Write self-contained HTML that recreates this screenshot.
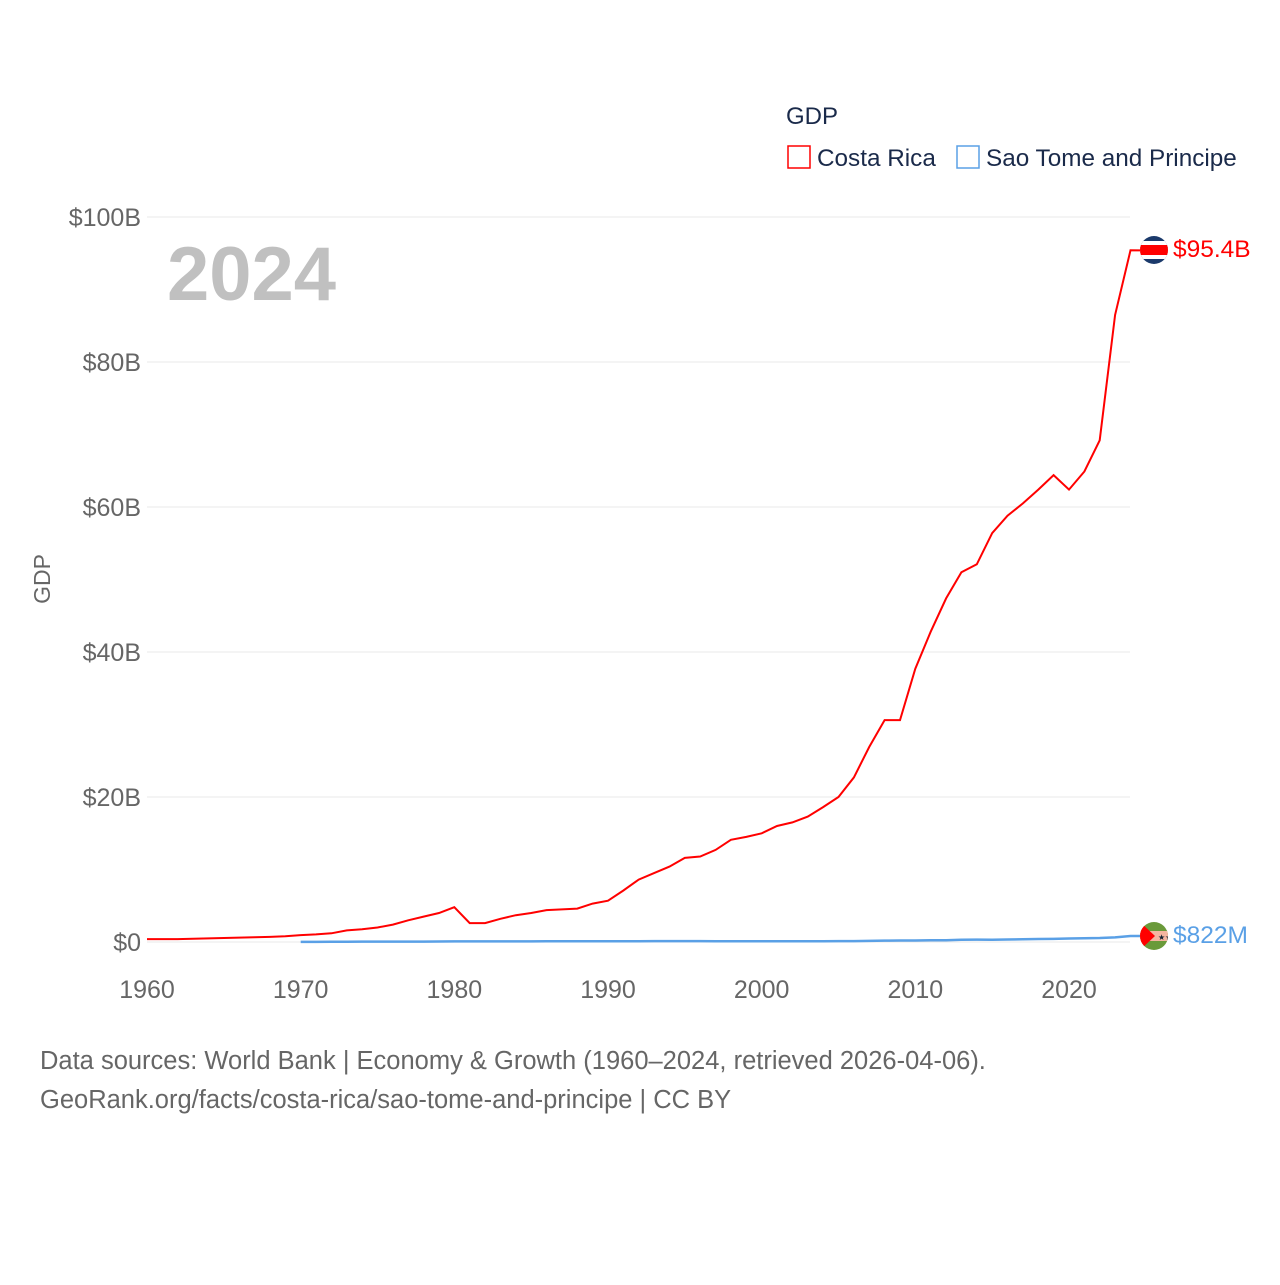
<!DOCTYPE html>
<html><head><meta charset="utf-8"><style>
body{margin:0;background:#fff;font-family:"Liberation Sans",sans-serif}
svg text{font-family:"Liberation Sans",sans-serif}
</style></head><body>
<svg id="chart" width="1280" height="1280" xmlns="http://www.w3.org/2000/svg">
<defs>
<clipPath id="c1"><circle cx="1154" cy="250" r="14"/></clipPath>
<clipPath id="c2"><circle cx="1154" cy="936" r="14"/></clipPath>
</defs>
<g id="grid"></g>
<g id="yticks"></g>
<g id="xticks"></g>
<text x="50" y="579" transform="rotate(-90 50 579)" text-anchor="middle" font-size="23" fill="#666">GDP</text>
<text x="167" y="300" font-size="76" font-weight="bold" fill="#c0c0c0">2024</text>
<text x="786" y="124" font-size="24" fill="#1a2a4a">GDP</text>
<g><rect x="788" y="146" width="22" height="22" fill="none" stroke="#f00" stroke-width="1.5"/><text x="817" y="166" font-size="24.3" fill="#1a2a4a">Costa Rica</text></g>
<g><rect x="957" y="146" width="22" height="22" fill="none" stroke="#5aa0e6" stroke-width="1.5"/><text x="986" y="166" font-size="24.3" fill="#1a2a4a">Sao Tome and Principe</text></g>
<path id="cr" fill="none" stroke="#f00" stroke-width="2"/>
<path id="stp" fill="none" stroke="#5aa0e6" stroke-width="2.5"/>
<g clip-path="url(#c1)">
<rect x="1140" y="236" width="28" height="28" fill="#1b3a6b"/><rect x="1140" y="241" width="28" height="18" fill="#fff"/><rect x="1140" y="245" width="28" height="10" fill="#f00"/></g>
<g clip-path="url(#c2)">
<rect x="1140" y="922" width="28" height="28" fill="#6a9a3a"/><rect x="1140" y="931" width="28" height="10" fill="#f5b5a0"/><polygon points="1140,922 1155,936 1140,950" fill="#f00"/><text x="1158" y="940" font-size="8" fill="#123">★★</text></g>
<text id="crlab" x="1173" y="257" font-size="24.5" fill="#f00">$95.4B</text>
<text id="stplab" x="1173" y="943" font-size="24.5" fill="#5aa0e6">$822M</text>
<text x="40" y="1069" font-size="25.5" fill="#666">Data sources: World Bank | Economy &amp; Growth (1960–2024, retrieved 2026-04-06).</text>
<text x="40" y="1108" font-size="25.5" fill="#666">GeoRank.org/facts/costa-rica/sao-tome-and-principe | CC BY</text>
</svg>
<script>
const yTicks=[0,20,40,60,80,100];
const yTickLabels=["$0","$20B","$40B","$60B","$80B","$100B"];
const xTicks=[1960,1970,1980,1990,2000,2010,2020];
const crYears=[];for(let y=1960;y<=2024;y++)crYears.push(y);
const crValues=[0.4,0.4,0.4,0.45,0.5,0.55,0.6,0.65,0.7,0.8,0.95,1.05,1.2,1.6,1.75,2.0,2.4,3.0,3.5,4.0,4.8,2.6,2.6,3.2,3.7,4.0,4.4,4.5,4.6,5.3,5.7,7.1,8.6,9.5,10.4,11.6,11.8,12.7,14.1,14.5,15.0,16.0,16.5,17.3,18.6,20.0,22.7,26.9,30.6,30.6,37.7,42.8,47.4,51.0,52.1,56.4,58.8,60.5,62.4,64.4,62.4,64.9,69.2,86.5,95.4];
const stpYears=[];for(let y=1970;y<=2024;y++)stpYears.push(y);
const stpValues=[0.02,0.02,0.03,0.04,0.05,0.05,0.05,0.05,0.06,0.07,0.08,0.08,0.08,0.08,0.08,0.08,0.09,0.09,0.09,0.09,0.1,0.1,0.1,0.12,0.13,0.13,0.12,0.11,0.1,0.1,0.11,0.11,0.11,0.11,0.11,0.12,0.13,0.15,0.19,0.2,0.2,0.23,0.25,0.3,0.33,0.32,0.34,0.37,0.41,0.43,0.48,0.52,0.55,0.63,0.822];
const X=y=>147+(y-1960)*(922/60);
const Y=v=>942-v*7.25;
const ns="http://www.w3.org/2000/svg";
const grid=document.getElementById('grid'),yt=document.getElementById('yticks'),xt=document.getElementById('xticks');
yTicks.forEach((t,i)=>{
 const l=document.createElementNS(ns,'line');
 l.setAttribute('x1',147);l.setAttribute('x2',1130);l.setAttribute('y1',Y(t));l.setAttribute('y2',Y(t));
 l.setAttribute('stroke','#e8e8e8');l.setAttribute('stroke-width',1);
 
 
 grid.appendChild(l);
 const tx=document.createElementNS(ns,'text');
 tx.setAttribute('x',141);tx.setAttribute('y',Y(t)+9);tx.setAttribute('text-anchor','end');
 tx.setAttribute('font-size','25');tx.setAttribute('fill','#666');tx.textContent=yTickLabels[i];
 
 
 yt.appendChild(tx);
});
xTicks.forEach(t=>{
 const tx=document.createElementNS(ns,'text');
 tx.setAttribute('x',X(t));tx.setAttribute('y',998);tx.setAttribute('text-anchor','middle');
 tx.setAttribute('font-size','25');tx.setAttribute('fill','#666');tx.textContent=t;
 
 
 xt.appendChild(tx);
});
function path(xs,vs){return xs.map((y,i)=>(i?'L':'M')+X(y).toFixed(1)+','+Y(vs[i]).toFixed(1)).join('');}
document.getElementById('cr').setAttribute('d',path(crYears,crValues)+'L'+(X(2024)+10)+','+Y(crValues[crValues.length-1]));
document.getElementById('stp').setAttribute('d',path(stpYears,stpValues)+'L'+(X(2024)+10)+','+Y(stpValues[stpValues.length-1]));
</script>
</body></html>
